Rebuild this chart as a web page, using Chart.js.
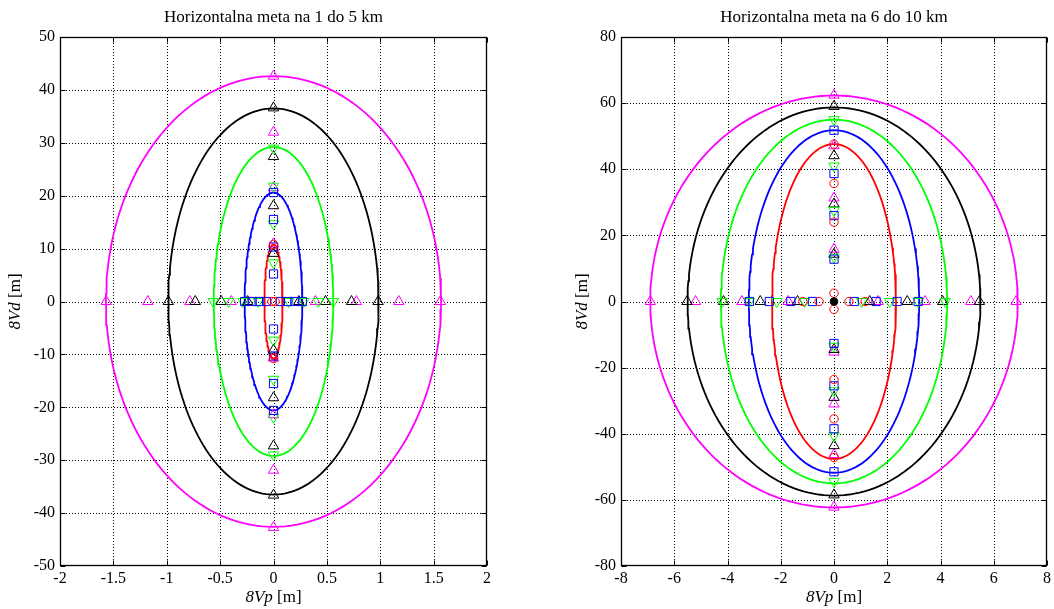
<!DOCTYPE html>
<html>
<head>
<meta charset="utf-8">
<script src="https://cdn.jsdelivr.net/npm/chart.js@4.4.0/dist/chart.umd.min.js"></script>
<style>
    body { margin: 0; background: #fff; }
    #okvir { position: relative; width: 1054px; height: 609px; }
    canvas { position: absolute; top: 0; }
</style>
</head>
<body>
<div id="okvir">
    <canvas id="grafico1" width="527" height="609" style="left:0px"></canvas>
    <canvas id="grafico2" width="527" height="609" style="left:527px"></canvas>
</div>
<script>
// boje i oznake po seriji: crvena, plava, zelena, crna, ljubicasta
const boje = ['#ff0000', '#0000ff', '#00ff00', '#000000', '#ff00ff'];
const oznake = ['circle', 'rect', 'triangleDown', 'triangle', 'triangle'];

// lijevi graf: 1 do 5 km
const poluosX1 = [0.085, 0.27, 0.56, 0.985, 1.57];
const poluosY1 = [10.8, 20.6, 29.2, 36.5, 42.6];
const tockeY1 = [
    [10.8, -10.8],
    [20.6, 15.5, 10.3, 5.2, -5.2, -10.3, -15.5, -20.6],
    [29.0, 21.8, 14.7, 7.3, -7.3, -14.7, -21.9, -29.0],
    [36.6, 27.4, 18.1, 9.1, -9.2, -18.2, -27.3, -36.6],
    [42.6, 32.0, 21.5, 10.9, -10.7, -21.4, -31.9, -42.7]
];
const tockeX1 = [
    [-0.015, 0.015],
    [-0.27, -0.2, -0.135, -0.065, 0.065, 0.135, 0.2, 0.27],
    [-0.565, -0.42, -0.285, -0.143, 0.143, 0.284, 0.42, 0.56],
    [-0.985, -0.733, -0.49, -0.242, 0.237, 0.487, 0.731, 0.98],
    [-1.567, -1.177, -0.784, -0.396, 0.393, 0.777, 1.174, 1.564]
];
const xTicks1 = { min: -2, max: 2, korak: 0.5 };
const yTicks1 = { min: -50, max: 50, korak: 10 };

// desni graf: 6 do 10 km
const poluosX2 = [2.33, 3.2, 4.25, 5.5, 6.9];
const poluosY2 = [47.6, 51.8, 55.0, 58.7, 62.3];
const tockeY2 = [
    [47.6, 35.7, 24.0, 2.5, -2.4, -23.6, -35.5, -47.2],
    [51.8, 38.7, 26.0, 12.8, -12.7, -25.5, -38.5, -51.5],
    [55.0, 41.0, 27.5, 13.4, -13.5, -27.0, -40.6, -54.4],
    [59.0, 44.1, 29.5, 14.3, -14.5, -29.0, -43.6, -58.5],
    [62.4, 47.1, 31.3, 15.8, -15.3, -31.0, -46.3, -62.2]
];
const tockeX2 = [
    [-1.17, -0.56, 0.56, 1.17],
    [-3.18, -2.43, -1.62, -0.81, 0.76, 1.58, 2.37, 3.16],
    [-4.2, -3.18, -2.15, -1.1, 1.04, 2.09, 3.16, 4.18],
    [-5.52, -4.15, -2.77, -1.37, 1.34, 2.75, 4.08, 5.46],
    [-6.9, -5.2, -3.46, -1.72, 1.66, 3.42, 5.14, 6.84]
];
const sredina2 = [{ x: 0, y: 0 }];
const xTicks2 = { min: -8, max: 8, korak: 2 };
const yTicks2 = { min: -80, max: 80, korak: 20 };

const FONT = "'Liberation Serif', 'Times New Roman', serif";

function elipsa(a, b) {
    var t = [];
    for (var i = 0; i <= 180; i++) {
        var f = i / 180 * 2 * Math.PI;
        t.push({ x: a * Math.sin(f), y: b * Math.cos(f) });
    }
    return t;
}

function napraviSkupove(poluosX, poluosY, tockeY, tockeX) {
    var skupovi = [];
    for (var i = 0; i < boje.length; i++) {
        skupovi.push({
            data: elipsa(poluosX[i], poluosY[i]),
            showLine: true,
            borderColor: boje[i],
            borderWidth: 1.8,
            pointRadius: 0,
            order: 3
        });
    }
    for (var i = 0; i < boje.length; i++) {
        var dolje = oznake[i] === 'triangleDown';
        var d = tockeY[i].map(function (v) { return { x: 0, y: v }; })
            .concat(tockeX[i].map(function (v) { return { x: v, y: 0 }; }));
        skupovi.push({
            data: d,
            showLine: false,
            pointStyle: dolje ? 'triangle' : oznake[i],
            rotation: dolje ? 180 : 0,
            pointRadius: oznake[i] === 'circle' ? 4.2 : (oznake[i] === 'rect' ? 5.8 : 6),
            pointBorderWidth: 1,
            borderColor: boje[i],
            backgroundColor: 'rgba(0,0,0,0)',
            order: 2
        });
    }
    return skupovi;
}

// mreza, okvir, crtice i natpisi u stilu matlaba
const okvirPlugin = {
    id: 'okvir',
    beforeDatasetsDraw: function (chart) {
        var ctx = chart.ctx, a = chart.chartArea;
        ctx.save();
        ctx.strokeStyle = '#000';
        ctx.lineWidth = 1;
        ctx.setLineDash([1, 2]);
        chart.scales.x.ticks.forEach(function (t) {
            var px = Math.round(chart.scales.x.getPixelForValue(t.value)) + 0.5;
            if (px <= a.left + 1 || px >= a.right - 1) return;
            ctx.beginPath(); ctx.moveTo(px, a.top); ctx.lineTo(px, a.bottom); ctx.stroke();
        });
        chart.scales.y.ticks.forEach(function (t) {
            var py = Math.round(chart.scales.y.getPixelForValue(t.value)) + 0.5;
            if (py <= a.top + 1 || py >= a.bottom - 1) return;
            ctx.beginPath(); ctx.moveTo(a.left, py); ctx.lineTo(a.right, py); ctx.stroke();
        });
        ctx.restore();
    },
    afterDraw: function (chart, args, opts) {
        var ctx = chart.ctx, a = chart.chartArea;
        var L = Math.round(a.left) + 0.5, R = Math.round(a.right) - 0.5;
        var T = Math.round(a.top) + 0.5, B = Math.round(a.bottom) - 0.5;
        ctx.save();
        ctx.strokeStyle = '#000';
        ctx.lineWidth = 1.3;
        ctx.setLineDash([]);
        ctx.strokeRect(L, T, R - L, B - T);
        ctx.lineWidth = 1;
        chart.scales.x.ticks.forEach(function (t) {
            var px = Math.round(chart.scales.x.getPixelForValue(t.value)) + 0.5;
            ctx.beginPath();
            ctx.moveTo(px, B); ctx.lineTo(px, B - 5);
            ctx.moveTo(px, T); ctx.lineTo(px, T + 5);
            ctx.stroke();
        });
        chart.scales.y.ticks.forEach(function (t) {
            var py = Math.round(chart.scales.y.getPixelForValue(t.value)) + 0.5;
            ctx.beginPath();
            ctx.moveTo(L, py); ctx.lineTo(L + 5, py);
            ctx.moveTo(R, py); ctx.lineTo(R - 5, py);
            ctx.stroke();
        });

        ctx.fillStyle = '#000';
        ctx.textBaseline = 'middle';
        ctx.textAlign = 'center';
        ctx.font = '17px ' + FONT;
        ctx.fillText(opts.naslov, (a.left + a.right) / 2, 18);

        // natpis osi: kurziv + obican tekst
        function natpis(kurziv, obicno, x, y) {
            ctx.font = 'italic 17px ' + FONT;
            var w1 = ctx.measureText(kurziv).width;
            ctx.font = '17px ' + FONT;
            var w2 = ctx.measureText(obicno).width;
            var x0 = x - (w1 + w2) / 2;
            ctx.textAlign = 'left';
            ctx.font = 'italic 17px ' + FONT;
            ctx.fillText(kurziv, x0, y);
            ctx.font = '17px ' + FONT;
            ctx.fillText(obicno, x0 + w1, y);
        }
        natpis('8Vp', ' [m]', (a.left + a.right) / 2, 598);
        ctx.translate(opts.yNatpisX, (a.top + a.bottom) / 2);
        ctx.rotate(-Math.PI / 2);
        natpis('8Vd', ' [m]', 0, 0);
        ctx.restore();
    }
};

function oznakaBroja(v) {
    return String(v);
}

function napraviGraf(id, skupovi, xt, yt, sirinaY, desno, naslov, yNatpisX) {
    var ctx = document.getElementById(id).getContext('2d');
    var tickFont = { family: FONT, size: 16 };
    return new Chart(ctx, {
        type: 'scatter',
        data: { datasets: skupovi },
        options: {
            responsive: false,
            animation: false,
            events: [],
            layout: { padding: { top: 37, right: desno, left: 0, bottom: 0 } },
            plugins: {
                legend: { display: false },
                tooltip: { enabled: false },
                okvir: { naslov: naslov, yNatpisX: yNatpisX }
            },
            scales: {
                x: {
                    type: 'linear', min: xt.min, max: xt.max,
                    ticks: { stepSize: xt.korak, autoSkip: false, maxRotation: 0, padding: 3, color: '#000', font: tickFont, callback: oznakaBroja },
                    grid: { display: false, drawTicks: false },
                    border: { display: false },
                    afterFit: function (s) { s.height = 43; }
                },
                y: {
                    type: 'linear', min: yt.min, max: yt.max,
                    ticks: { stepSize: yt.korak, autoSkip: false, padding: 5, color: '#000', font: tickFont, callback: oznakaBroja },
                    grid: { display: false, drawTicks: false },
                    border: { display: false },
                    afterFit: function (s) { s.width = sirinaY; }
                }
            }
        },
        plugins: [okvirPlugin]
    });
}

var skupovi1 = napraviSkupove(poluosX1, poluosY1, tockeY1, tockeX1);
napraviGraf('grafico1', skupovi1, xTicks1, yTicks1, 60, 40, 'Horizontalna meta na 1 do 5 km', 16);

var skupovi2 = napraviSkupove(poluosX2, poluosY2, tockeY2, tockeX2);
skupovi2.push({
    data: sredina2,
    showLine: false,
    pointStyle: 'circle',
    pointRadius: 3.8,
    borderColor: '#000',
    backgroundColor: '#000',
    order: 1
});
napraviGraf('grafico2', skupovi2, xTicks2, yTicks2, 94, 6, 'Horizontalna meta na 6 do 10 km', 56);
</script>
</body>
</html>
